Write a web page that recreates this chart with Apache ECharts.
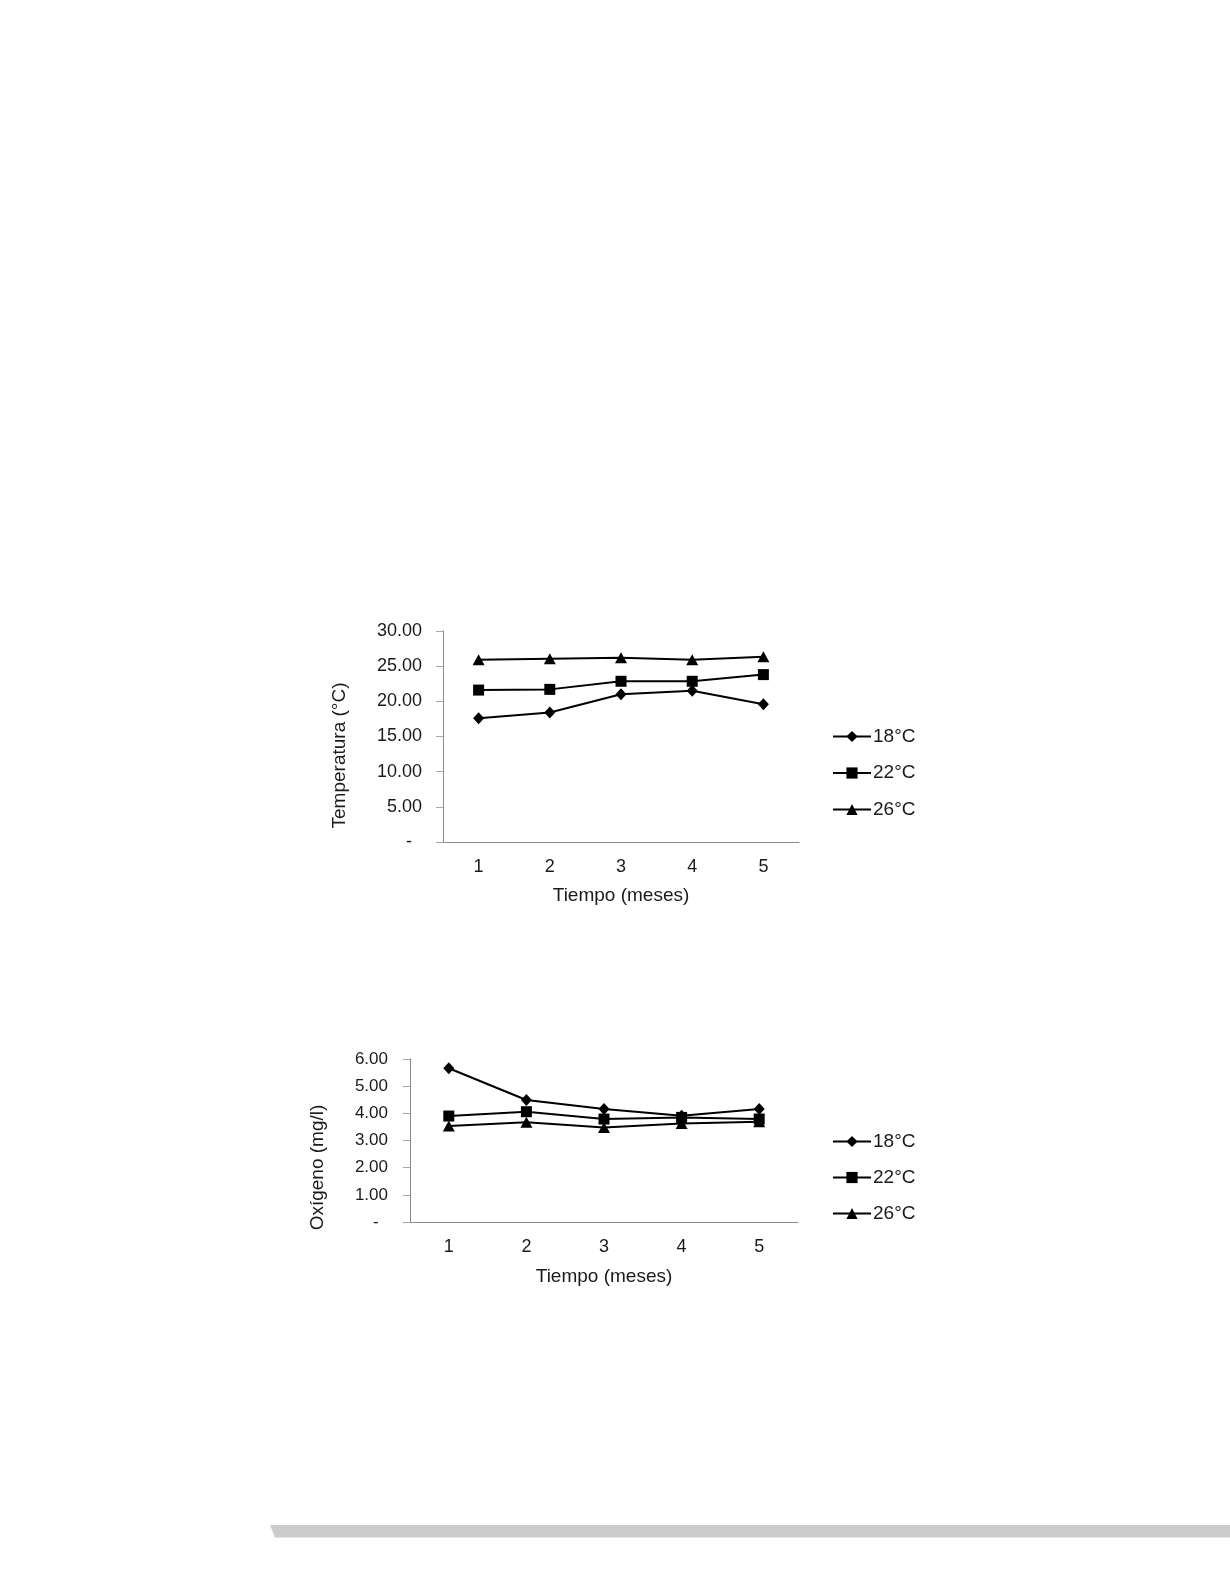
<!DOCTYPE html>
<html><head><meta charset="utf-8">
<script src="https://cdn.jsdelivr.net/npm/echarts@6/dist/echarts.min.js"></script>
<style>html,body{margin:0;padding:0;background:#fff}#c{width:1230px;height:1593px}</style>
</head><body><div id="c"></div>
<script>
var months = ['1','2','3','4','5'];
var seriesNames = ['18°C','22°C','26°C'];
var temp18 = [17.6, 18.4, 21.0, 21.5, 19.6];
var temp22 = [21.6, 21.7, 22.85, 22.85, 23.8];
var temp26 = [25.9, 26.05, 26.2, 25.9, 26.35];
var oxy18 = [5.66, 4.49, 4.16, 3.91, 4.16];
var oxy22 = [3.90, 4.06, 3.79, 3.85, 3.79];
var oxy26 = [3.53, 3.67, 3.48, 3.63, 3.69];
var tempTitle = 'Temperatura (°C)';
var oxyTitle = 'Oxígeno (mg/l)';
var xTitle = 'Tiempo (meses)';

var FONT = 'Liberation Sans, Arial, sans-serif';
var TXT = '#1a1a1a';
var AX = '#8a8a8a';
var TICK = '#a6a6a6';
var symbols = ['diamond','rect','triangle'];
var symSizes = [[11,12],11,[12,11]];

function mkSeries(name, data, i, idx){
  return {type:'line', name:name, data:data, xAxisIndex:idx, yAxisIndex:idx,
    symbol:symbols[i], symbolSize:symSizes[i], showAllSymbol:true,
    lineStyle:{color:'#000', width:2}, itemStyle:{color:'#000'}, animation:false};
}
function yFmt(v){ return v===0 ? '-  ' : v.toFixed(2); }

var chart = echarts.init(document.getElementById('c'), null, {renderer:'canvas'});
chart.setOption({
  backgroundColor:'#fff',
  textStyle:{fontFamily:FONT},
  grid:[
    {left:443, top:631, width:356, height:211},
    {left:410, top:1059, width:388, height:163}
  ],
  xAxis:[0,1].map(function(i){ return {
    type:'category', gridIndex:i, data:months, boundaryGap:true,
    axisLine:{lineStyle:{color:AX,width:1}}, axisTick:{show:false},
    axisLabel:{color:TXT, fontSize:18, margin:16, fontFamily:FONT},
    name:xTitle, nameLocation:'middle', nameGap:i===0?44:45,
    nameTextStyle:{color:TXT, fontSize:19, fontFamily:FONT}
  };}),
  yAxis:[
    {type:'value', gridIndex:0, min:0, max:30, interval:5,
     axisLine:{show:true, lineStyle:{color:AX,width:1}},
     axisTick:{show:true, length:7, lineStyle:{color:TICK}}, splitLine:{show:false},
     axisLabel:{color:TXT, fontSize:18, margin:21, formatter:yFmt, fontFamily:FONT, padding:[5,0,0,0]},
     name:tempTitle, nameLocation:'middle', nameGap:94, nameRotate:90,
     nameTextStyle:{color:TXT, fontSize:19, fontFamily:FONT, padding:[0,38,0,0]}},
    {type:'value', gridIndex:1, min:0, max:6, interval:1,
     axisLine:{show:true, lineStyle:{color:AX,width:1}},
     axisTick:{show:true, length:7, lineStyle:{color:TICK}}, splitLine:{show:false},
     axisLabel:{color:TXT, fontSize:17, margin:22, formatter:yFmt, fontFamily:FONT, padding:[5,0,0,0]},
     name:oxyTitle, nameLocation:'middle', nameGap:83, nameRotate:90,
     nameTextStyle:{color:TXT, fontSize:19, fontFamily:FONT, padding:[0,54,0,0]}}
  ],
  legend:[
    {orient:'vertical', left:827, top:722, itemWidth:38, itemHeight:14, itemGap:17.5,
     data:seriesNames.map(function(n){return {name:n};}),
     textStyle:{color:TXT, fontSize:19, fontFamily:FONT, padding:[0,0,0,-3]}, selectedMode:false},
    {orient:'vertical', left:827, top:1127, itemWidth:38, itemHeight:14, itemGap:17,
     data:seriesNames.map(function(n){return {name:n+' '};}),
     textStyle:{color:TXT, fontSize:19, fontFamily:FONT, padding:[0,0,0,-3]}, selectedMode:false}
  ],
  series:[
    mkSeries(seriesNames[0], temp18, 0, 0),
    mkSeries(seriesNames[1], temp22, 1, 0),
    mkSeries(seriesNames[2], temp26, 2, 0),
    mkSeries(seriesNames[0]+' ', oxy18, 0, 1),
    mkSeries(seriesNames[1]+' ', oxy22, 1, 1),
    mkSeries(seriesNames[2]+' ', oxy26, 2, 1)
  ],
  graphic:[
    {type:'polygon', shape:{points:[[270,1525],[1230,1525],[1230,1537.5],[275,1537.5]]},
     style:{fill:'#cccccc'}, silent:true}
  ]
});
</script></body></html>
